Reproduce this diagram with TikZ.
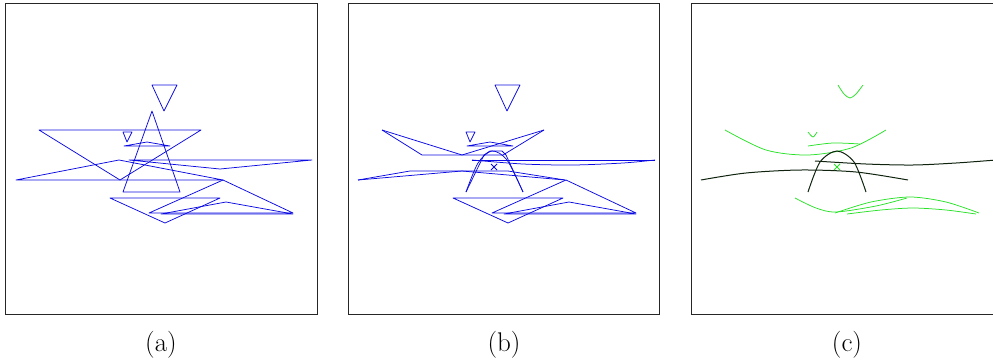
\documentclass[tikz,border=0pt]{standalone}
\definecolor{myblue}{RGB}{10,10,225}
\definecolor{mygreen}{RGB}{40,225,40}
\definecolor{mydark}{RGB}{15,35,15}
\begin{document}
\begin{tikzpicture}[x=1pt,y=-1pt,
  frame/.style={draw=black!85, line width=0.6pt},
  bl/.style={draw=myblue, line width=0.75pt, line join=round},
  gr/.style={draw=mygreen, line width=0.75pt},
  dk/.style={draw=mydark, line width=1pt},
  lab/.style={font=\fontsize{27}{30}\selectfont, inner sep=0pt}]
\useasboundingbox (0,0) rectangle (993,362);
% frames
\draw[frame] (5,3) rectangle (317,314);
\draw[frame] (348,3) rectangle (659,314);
\draw[frame] (691,3) -- (691,314) -- (995,314);
\draw[frame] (691,3) -- (995,3);
\node[lab] (la) at (161,345) {(a)};
\node[lab] (lb) at (504,345) {(b)};
\node[lab] (lc) at (847,345) {(c)};
% ---------- panel (a)
\begin{scope}
\draw[bl] (152,85) -- (177,85) -- (164,111) -- cycle;
\draw[bl] (152,111) -- (180,192) -- (123,192) -- cycle;
\draw[bl] (39,130) -- (201,130) -- (120,180) -- cycle;
\draw[bl] (123,132) -- (132,132) -- (127,142) -- cycle;
\draw[bl] (124,146) -- (147,142) -- (170,146) -- cycle;
\draw[bl] (16,180) -- (119,160) -- (223,180) -- cycle;
\draw[bl] (129,160) -- (312,160) -- (220,169) -- cycle;
\draw[bl] (223,180) -- (293,213) -- (149,213) -- cycle;
\draw[bl] (110,198) -- (220,198) -- (165,223) -- cycle;
\draw[bl] (161,214) -- (226,202) -- (293,214) -- cycle;
\end{scope}
% ---------- panel (b)
\begin{scope}[shift={(343,0)}]
\draw[bl] (152,85) -- (177,85) -- (164,111) -- cycle;
\draw[bl] (123,132) -- (132,132) -- (127,142) -- cycle;
\draw[bl] (124,146) -- (147,142) -- (170,146) -- cycle;
\draw[bl] (39,130) -- (119,155) -- (201,130);
\draw[bl] (39,130) -- (79,155) -- (160,155) -- (201,130);
\draw[bl] (15,180) -- (67,171) -- (165,171) -- (222,180);
\draw[bl] (15,180) -- (119,171) -- (222,180);
\draw[bl] (129,160) -- (312,160);
\draw[bl] plot[smooth] coordinates {(129,160) (180,164) (230,165) (280,163) (312,160)};
\draw[bl] plot[smooth] coordinates {(123,192) (135,163) (149,151) (164,160) (180,192)};
\draw[bl] (123,192) -- (141,155) -- (147,151) -- (159,151) -- (163,155) -- (180,192);
\draw[bl] (148,164) -- (154,170) (148,170) -- (154,164);
\draw[bl] (223,180) -- (293,213) -- (149,213) -- cycle;
\draw[bl] (110,198) -- (220,198) -- (165,223) -- cycle;
\draw[bl] (161,214) -- (226,202) -- (293,214) -- cycle;
\end{scope}
% ---------- panel (c)
\begin{scope}[shift={(686,0)}]
\clip (6,3) rectangle (307,314);
\draw[gr] plot[smooth] coordinates {(152,85) (158,94) (164,98) (170,94) (177,85)};
\draw[gr] plot[smooth] coordinates {(122,132) (127,137) (131,132)};
\draw[gr] plot[smooth] coordinates {(122,146) (147,143) (174,144)};
\draw[gr] plot[smooth] coordinates {(39,130) (80,150) (122,155) (165,148) (200,130)};
\draw[dk] plot[smooth] coordinates {(122,192) (134,162) (151,151) (168,162) (180,192)};
\draw[dk] plot[smooth] coordinates {(15,180) (60,173) (115,170) (170,172) (222,180)};
\draw[dk] plot[smooth] coordinates {(129,161) (180,164) (227,165) (270,163) (310,160)};
\draw[gr] plot[smooth] coordinates {(109,198) (130,208) (150,212) (190,206) (221,198)};
\draw[gr] plot[smooth] coordinates {(149,213) (185,202) (224,197) (260,202) (293,213)};
\draw[gr] plot[smooth] coordinates {(161,214) (195,210) (227,208) (260,210) (290,214)};
\draw[gr] (148,164) -- (154,170) (148,170) -- (154,164);
\end{scope}
\end{tikzpicture}
\end{document}
